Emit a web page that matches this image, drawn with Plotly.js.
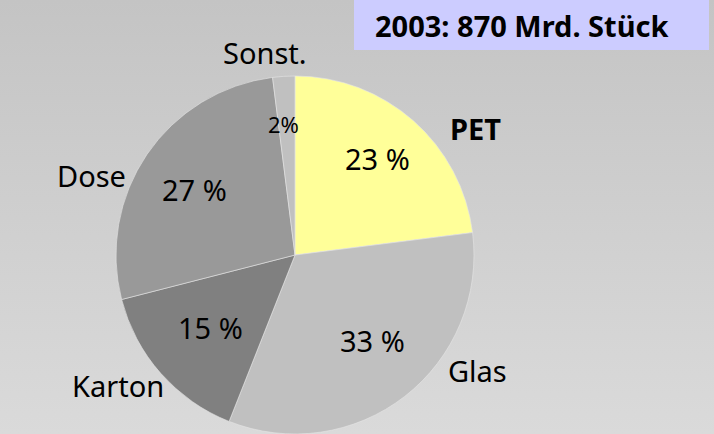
<!DOCTYPE html>
<html>
<head>
<meta charset="utf-8">
<script src="https://cdn.plot.ly/plotly-3.0.1.min.js"></script>
<style>
html, body { margin:0; padding:0; width:714px; height:434px; overflow:hidden;
  background: linear-gradient(to bottom, #c4c4c4 0%, #dadada 100%); }
#chart { width:714px; height:434px; }
</style>
</head>
<body>
<div id="chart"></div>
<script>
const labels = ["PET", "Glas", "Karton", "Dose", "Sonst."];
const values = [23, 33, 15, 27, 2];
const valueTexts = ["23 %", "33 %", "15 %", "27 %", "2%"];
const colors = ["#ffff99", "#c0c0c0", "#808080", "#999999", "#c0c0c0"];
const titleText = "2003: 870 Mrd. Stück";

const W = 714, H = 434;
const cx = 295, cy = 255, R = 179;
const font = "Noto Sans, Open Sans, sans-serif";

// text placements (pixels) as in the reference
const inPos = [[377, 158], [372, 340], [210, 327], [195, 189], [283, 124]];
const outPos = [[475, 128], [478, 370], [118, 385], [91, 175], [265, 52]];

const annotations = [];
valueTexts.forEach((t, i) => {
  annotations.push({
    x: inPos[i][0] / W, y: 1 - inPos[i][1] / H, xref: "paper", yref: "paper",
    xanchor: "center", yanchor: "middle",
    text: t, showarrow: false,
    font: {family: font, size: i === 4 ? 22 : 29, color: "#000"}
  });
});
labels.forEach((l, i) => {
  annotations.push({
    x: outPos[i][0] / W, y: 1 - outPos[i][1] / H, xref: "paper", yref: "paper",
    xanchor: "center", yanchor: "middle",
    text: i === 0 ? "<b>" + l + "</b>" : l, showarrow: false,
    font: {family: font, size: 29, color: "#000"}
  });
});
annotations.push({
  x: 521 / W, y: 1 - 25 / H, xref: "paper", yref: "paper",
  xanchor: "center", yanchor: "middle",
  text: "<b>" + titleText + "</b>", showarrow: false,
  font: {family: font, size: 29, color: "#000"}
});

const data = [{
  type: "pie",
  labels: labels,
  values: values,
  sort: false,
  direction: "clockwise",
  rotation: 0,
  textinfo: "none",
  hoverinfo: "label+percent",
  marker: {colors: colors, line: {color: "rgba(230,230,230,0.6)", width: 1}},
  domain: {x: [(cx - R) / W, (cx + R) / W], y: [(H - cy - R) / H, (H - cy + R) / H]},
  showlegend: false
}];

const layout = {
  width: W, height: H,
  margin: {l: 0, r: 0, t: 0, b: 0},
  paper_bgcolor: "rgba(0,0,0,0)",
  plot_bgcolor: "rgba(0,0,0,0)",
  showlegend: false,
  shapes: [{
    type: "rect", xref: "paper", yref: "paper",
    x0: 354 / W, x1: 709 / W, y0: 1 - 50 / H, y1: 1,
    fillcolor: "#ccccff", line: {width: 0}, layer: "below"
  }],
  annotations: annotations
};

Plotly.newPlot("chart", data, layout, {displayModeBar: false, staticPlot: true});
</script>
</body>
</html>
